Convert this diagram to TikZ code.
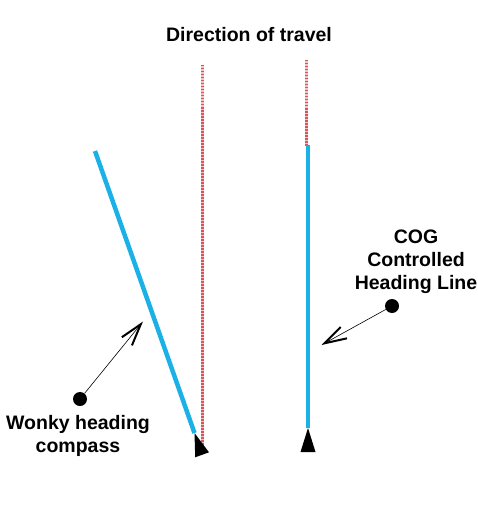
\documentclass[tikz,border=0pt]{standalone}
\usepackage{fontspec}
\setmainfont{Liberation Sans}
\usetikzlibrary{arrows.meta}
\definecolor{headblue}{RGB}{27,177,231}
\definecolor{travelred}{RGB}{215,85,90}

\begin{document}
\begin{tikzpicture}[x=1pt,y=-1pt,
    lbl/.style={font=\fontsize{19.5}{23}\selectfont\bfseries,align=center},
    dot/.style={circle,fill=black,inner sep=0pt,minimum size=14pt},
    pointer/.style={-{Straight Barb[length=22pt,width=13pt,line width=2pt]},line width=0.6pt},
    travelbase/.style={travelred!35,line width=3pt},
    travel/.style={travelred,line width=3pt,dash pattern=on 1.5pt off 1.5pt},
    heading/.style={headblue,line width=4.5pt}]
\useasboundingbox (0,0) rectangle (477,524);
% direction of travel
\node[lbl] (title) at (249,35) {Direction of travel};
\draw[travelbase] (202,65) -- (202,448);
\draw[travel] (202,65) -- (202,448);
\draw[travelbase] (306,60) -- (306,146);
\draw[travel] (306,60) -- (306,146);
% heading lines
\coordinate (wonkytop) at (95,151);
\coordinate (wonkyend) at (194.5,433);
\coordinate (cogtop) at (308,145);
\coordinate (cogend) at (308,428);
\draw[heading] (wonkytop) -- (wonkyend);
\draw[heading] (cogtop) -- (cogend);
% boats
\fill[black] (wonkyend) -- (209,452.3) -- (195.2,457.3) -- cycle;
\fill[black] (cogend) -- (315.5,452) -- (300.5,452) -- cycle;
% labels
\node[lbl] (wonkylabel) at (78,436) {Wonky heading\\compass};
\node[lbl] (coglabel) at (416,262) {COG\\Controlled\\Heading Line};
\node[dot] (wonkydot) at (80,399) {};
\node[dot] (cogdot) at (392,306) {};
\coordinate (wonkytip) at (143,321.5);
\coordinate (cogtip) at (321.5,345);
\draw[pointer] (wonkydot) -- (wonkytip);
\draw[pointer] (cogdot) -- (cogtip);
\end{tikzpicture}
\end{document}
